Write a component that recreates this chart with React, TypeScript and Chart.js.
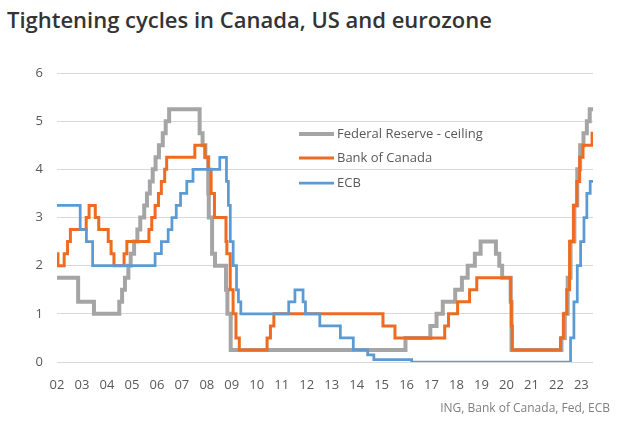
import React, { useEffect, useRef } from "react";
import { Chart, registerables } from "chart.js";

Chart.register(...registerables);

// ---- Data: policy-rate change dates and levels (%) ----
const fedDates = [
  "2002-01-01", "2002-11-06", "2003-06-25", "2004-06-30", "2004-08-10", "2004-09-21",
  "2004-11-10", "2004-12-14", "2005-02-02", "2005-03-22", "2005-05-03", "2005-06-30",
  "2005-08-09", "2005-09-20", "2005-11-01", "2005-12-13", "2006-01-31", "2006-03-28",
  "2006-05-10", "2006-06-29", "2007-09-18", "2007-10-31", "2007-12-11", "2008-01-22",
  "2008-01-30", "2008-03-18", "2008-04-30", "2008-10-08", "2008-10-29", "2008-12-16",
  "2015-12-16", "2016-12-14", "2017-03-15", "2017-06-14", "2017-12-13", "2018-03-21",
  "2018-06-13", "2018-09-26", "2018-12-19", "2019-07-31", "2019-09-18", "2019-10-30",
  "2020-03-03", "2020-03-15", "2022-03-16", "2022-05-04", "2022-06-15", "2022-07-27",
  "2022-09-21", "2022-11-02", "2022-12-14", "2023-02-01", "2023-03-22", "2023-05-03",
  "2023-06-20",
];
const fedRates = [
  1.75, 1.25, 1.0, 1.25, 1.5, 1.75,
  2.0, 2.25, 2.5, 2.75, 3.0, 3.25,
  3.5, 3.75, 4.0, 4.25, 4.5, 4.75,
  5.0, 5.25, 4.75, 4.5, 4.25, 3.5,
  3.0, 2.25, 2.0, 1.5, 1.0, 0.25,
  0.5, 0.75, 1.0, 1.25, 1.5, 1.75,
  2.0, 2.25, 2.5, 2.25, 2.0, 1.75,
  1.25, 0.25, 0.5, 1.0, 1.75, 2.5,
  3.25, 4.0, 4.5, 4.75, 5.0, 5.25,
  5.25,
];

const bocDates = [
  "2002-01-01", "2002-01-15", "2002-04-16", "2002-06-04", "2002-07-16", "2003-03-04",
  "2003-04-15", "2003-07-15", "2003-09-03", "2004-01-20", "2004-03-02", "2004-04-13",
  "2004-09-08", "2004-10-19", "2005-09-07", "2005-10-18", "2005-12-06", "2006-01-24",
  "2006-03-07", "2006-04-25", "2006-05-24", "2007-07-10", "2007-12-04", "2008-01-22",
  "2008-03-04", "2008-04-22", "2008-10-08", "2008-10-21", "2008-12-09", "2009-01-20",
  "2009-03-03", "2009-04-21", "2010-06-01", "2010-07-20", "2010-09-08", "2015-01-21",
  "2015-07-15", "2017-07-12", "2017-09-06", "2018-01-17", "2018-07-11", "2018-10-24",
  "2020-03-04", "2020-03-13", "2020-03-27", "2022-03-02", "2022-04-13", "2022-06-01",
  "2022-07-13", "2022-09-07", "2022-10-26", "2022-12-07", "2023-01-25", "2023-06-07",
  "2023-06-20",
];
const bocRates = [
  2.25, 2.0, 2.25, 2.5, 2.75, 3.0,
  3.25, 3.0, 2.75, 2.5, 2.25, 2.0,
  2.25, 2.5, 2.75, 3.0, 3.25, 3.5,
  3.75, 4.0, 4.25, 4.5, 4.25, 4.0,
  3.5, 3.0, 2.5, 2.25, 1.5, 1.0,
  0.5, 0.25, 0.5, 0.75, 1.0, 0.75,
  0.5, 0.75, 1.0, 1.25, 1.5, 1.75,
  1.25, 0.75, 0.25, 0.5, 1.0, 1.5,
  2.5, 3.25, 3.75, 4.25, 4.5, 4.75,
  4.75,
];

const ecbDates = [
  "2002-01-01", "2002-12-06", "2003-03-07", "2003-06-06", "2005-12-06", "2006-03-08",
  "2006-06-15", "2006-08-09", "2006-10-11", "2006-12-13", "2007-03-14", "2007-06-13",
  "2008-07-09", "2008-10-15", "2008-11-12", "2008-12-10", "2009-01-21", "2009-03-11",
  "2009-04-08", "2009-05-13", "2011-04-13", "2011-07-13", "2011-11-09", "2011-12-14",
  "2012-07-11", "2013-05-08", "2013-11-13", "2014-06-11", "2014-09-10", "2016-03-16",
  "2022-07-27", "2022-09-14", "2022-11-02", "2022-12-21", "2023-02-08", "2023-03-22",
  "2023-05-10", "2023-06-20",
];
const ecbRates = [
  3.25, 2.75, 2.5, 2.0, 2.25, 2.5,
  2.75, 3.0, 3.25, 3.5, 3.75, 4.0,
  4.25, 3.75, 3.25, 2.5, 2.0, 1.5,
  1.25, 1.0, 1.25, 1.5, 1.25, 1.0,
  0.75, 0.5, 0.25, 0.15, 0.05, 0.0,
  0.5, 1.25, 2.0, 2.5, 3.0, 3.5,
  3.75, 3.75,
];

const seriesNames = ["Federal Reserve - ceiling", "Bank of Canada", "ECB"];
const tickLabels = [
  "02", "03", "04", "05", "06", "07", "08", "09", "10", "11", "12",
  "13", "14", "15", "16", "17", "18", "19", "20", "21", "22", "23",
];
const firstYear = 2002;
const title = "Tightening cycles in Canada, US and eurozone";
const source = "ING, Bank of Canada, Fed, ECB";

const COLORS = { fed: "#A5A5A5", boc: "#EE6C22", ecb: "#5B9BD5" };
const FONT = "'Open Sans', 'Noto Sans', sans-serif";

function toYear(d: string): number {
  const [y, m, day] = d.split("-").map(Number);
  const start = Date.UTC(y, 0, 1);
  const end = Date.UTC(y + 1, 0, 1);
  return y + (Date.UTC(y, m - 1, day) - start) / (end - start);
}
function toPoints(dates: string[], rates: number[]) {
  return dates.map((d, i) => ({ x: toYear(d), y: rates[i] }));
}

const inlineLegend = {
  id: "inlineLegend",
  afterDatasetsDraw(chart: any) {
    const ctx = chart.ctx;
    const rows = [134, 158, 183];
    ctx.save();
    chart.data.datasets.forEach((ds: any, i: number) => {
      const y = rows[i];
      ctx.beginPath();
      ctx.strokeStyle = ds.borderColor;
      ctx.lineWidth = ds.borderWidth;
      ctx.lineCap = "butt";
      ctx.moveTo(299, y);
      ctx.lineTo(334, y);
      ctx.stroke();
      ctx.fillStyle = "#595959";
      ctx.font = `13px ${FONT}`;
      ctx.textBaseline = "middle";
      ctx.textAlign = "left";
      ctx.fillText(ds.label, 337, y);
    });
    ctx.restore();
  },
};

export default function App() {
  const canvasRef = useRef<HTMLCanvasElement | null>(null);

  useEffect(() => {
    if (!canvasRef.current) return;
    const maxX = toYear("2023-06-20");
    const chart = new Chart(canvasRef.current, {
      type: "line",
      data: {
        datasets: [
          {
            label: seriesNames[0],
            data: toPoints(fedDates, fedRates),
            borderColor: COLORS.fed,
            borderWidth: 4,
            stepped: "before",
            pointRadius: 0,
            order: 2,
          },
          {
            label: seriesNames[1],
            data: toPoints(bocDates, bocRates),
            borderColor: COLORS.boc,
            borderWidth: 3,
            stepped: "before",
            pointRadius: 0,
            order: 1,
          },
          {
            label: seriesNames[2],
            data: toPoints(ecbDates, ecbRates),
            borderColor: COLORS.ecb,
            borderWidth: 2.75,
            stepped: "before",
            pointRadius: 0,
            order: 0,
          },
        ],
      },
      options: {
        animation: false,
        responsive: false,
        parsing: false as any,
        layout: { padding: { top: 73, right: 37, left: 0, bottom: 0 } },
        plugins: {
          legend: { display: false },
          tooltip: { enabled: false },
        },
        scales: {
          x: {
            type: "linear",
            min: firstYear,
            max: maxX,
            grid: { display: false },
            border: { display: false },
            ticks: {
              stepSize: 1,
              includeBounds: false,
              autoSkip: false,
              maxRotation: 0,
              padding: 7,
              color: "#595959",
              font: { family: FONT, size: 13 },
              callback: (v: any) => tickLabels[Math.round(Number(v)) - firstYear] ?? "",
            },
            afterFit: (s: any) => {
              s.height = 72;
            },
          },
          y: {
            min: 0,
            max: 6,
            grid: { color: "#D9D9D9", lineWidth: 1, drawTicks: false },
            border: { display: false },
            ticks: {
              stepSize: 1,
              padding: 14,
              color: "#595959",
              font: { family: FONT, size: 13 },
            },
            afterFit: (s: any) => {
              s.width = 57;
            },
          },
        },
      },
      plugins: [inlineLegend],
    });
    return () => chart.destroy();
  }, []);

  return (
    <div
      style={{
        position: "absolute",
        left: 0,
        top: 0,
        width: 630,
        height: 434,
        background: "#ffffff",
        overflow: "hidden",
      }}
    >
      <div
        style={{
          position: "absolute",
          left: 7,
          top: 4,
          fontFamily: FONT,
          fontWeight: 600,
          fontSize: 22,
          color: "#333333",
          whiteSpace: "nowrap",
          lineHeight: "30px",
        }}
      >
        {title}
      </div>
      <canvas ref={canvasRef} width={630} height={434} style={{ position: "absolute", left: 0, top: 0 }} />
      <div
        style={{
          position: "absolute",
          right: 20,
          top: 399,
          fontFamily: FONT,
          fontSize: 12,
          color: "#808080",
          whiteSpace: "nowrap",
          lineHeight: "18px",
        }}
      >
        {source}
      </div>
    </div>
  );
}
